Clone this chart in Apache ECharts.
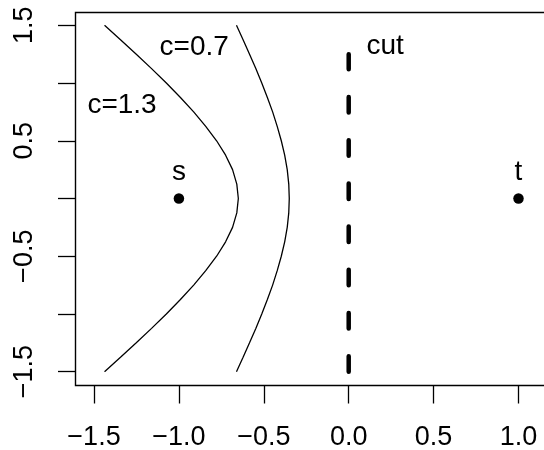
<!DOCTYPE html>
<html>
<head>
<meta charset="utf-8">
<script src="https://cdn.jsdelivr.net/npm/echarts@6/dist/echarts.min.js"></script>
<style>html,body{margin:0;padding:0;background:#fff}#c{width:544px;height:450px}</style>
</head>
<body>
<div id="c"></div>
<script>
// ---- data ----
var curveY    = [-1.5,-1.375,-1.25,-1.125,-1.0,-0.875,-0.75,-0.625,-0.5,-0.375,-0.25,-0.125,0,0.125,0.25,0.375,0.5,0.625,0.75,0.875,1.0,1.125,1.25,1.375,1.5];
var curve13X  = [-1.438,-1.344,-1.251,-1.161,-1.074,-0.991,-0.913,-0.842,-0.778,-0.725,-0.684,-0.659,-0.650,-0.659,-0.684,-0.725,-0.778,-0.842,-0.913,-0.991,-1.074,-1.161,-1.251,-1.344,-1.438];
var curve07X  = [-0.661,-0.622,-0.584,-0.547,-0.512,-0.479,-0.448,-0.421,-0.397,-0.377,-0.362,-0.353,-0.350,-0.353,-0.362,-0.377,-0.397,-0.421,-0.448,-0.479,-0.512,-0.547,-0.584,-0.622,-0.661];
var cutX      = [0, 0];
var cutY      = [-1.5, 1.25];
var pointX    = [-1, 1];
var pointY    = [0, 0];
var textLabels = ['s', 't', 'cut', 'c=0.7', 'c=1.3'];
var textX      = [-1.0, 1.0, 0.215, -0.91, -1.335];
var textY      = [0.223, 0.223, 1.315, 1.31, 0.81];
var xTicks      = [-1.5, -1.0, -0.5, 0, 0.5, 1.0];
var xTickLabels = ['\u22121.5', '\u22121.0', '\u22120.5', '0.0', '0.5', '1.0'];
var yTicks      = [-1.5, -1.0, -0.5, 0, 0.5, 1.0, 1.5];
var yTickLabels = ['\u22121.5', '', '\u22120.5', '', '0.5', '', '1.5'];

function lookup(ticks, labels, v) {
  for (var i = 0; i < ticks.length; i++) if (Math.abs(ticks[i] - v) < 1e-9) return labels[i];
  return '';
}
function pairs(xs, ys) { return xs.map(function (x, i) { return [x, ys[i]]; }); }

var FONT = 'Liberation Sans, Arial, Helvetica, sans-serif';
var chart = echarts.init(document.getElementById('c'), null, {renderer: 'canvas'});
chart.setOption({
  animation: false,
  backgroundColor: '#fff',
  grid: {left: 94, right: 25.5, top: 25.3, bottom: 78.3, containLabel: false, outerBoundsMode: 'none'},
  xAxis: {
    type: 'value', min: -1.5, max: 1.0, interval: 0.5, offset: 13.8,
    axisLine: {show: false, onZero: false}, splitLine: {show: false},
    axisTick: {show: true, length: 18, lineStyle: {color: '#000', width: 1.3}},
    axisLabel: {show: true, margin: 52, verticalAlign: 'middle', color: '#000', fontSize: 27, fontFamily: FONT,
      showMinLabel: true, showMaxLabel: true, hideOverlap: false,
      formatter: function (v) { return lookup(xTicks, xTickLabels, v); }}
  },
  yAxis: {
    type: 'value', min: -1.5, max: 1.5, interval: 0.5, offset: 18,
    axisLine: {show: false, onZero: false}, splitLine: {show: false},
    axisTick: {show: true, length: 18, lineStyle: {color: '#000', width: 1.3}},
    axisLabel: {show: true, margin: 51, rotate: 90, align: 'center', verticalAlign: 'middle', color: '#000', fontSize: 27, fontFamily: FONT,
      showMinLabel: true, showMaxLabel: true, hideOverlap: false,
      formatter: function (v) { return lookup(yTicks, yTickLabels, v); }}
  },
  graphic: [{
    type: 'rect', silent: true, z: 100,
    shape: {x: 75.5, y: 12.5, width: 520, height: 373},
    style: {fill: 'none', stroke: '#000', lineWidth: 1.4}
  }],
  series: [
    {type: 'line', data: pairs(curve13X, curveY), showSymbol: false, symbol: 'none', smooth: false,
      lineStyle: {color: '#000', width: 1.3}},
    {type: 'line', data: pairs(curve07X, curveY), showSymbol: false, symbol: 'none', smooth: false,
      lineStyle: {color: '#000', width: 1.3}},
    {type: 'line', data: pairs(cutX, cutY), showSymbol: false, symbol: 'none',
      lineStyle: {color: '#000', width: 4.5, type: [15.5, 27.7], cap: 'round'}},
    {type: 'scatter', data: pairs(pointX, pointY), symbol: 'circle', symbolSize: 10.5,
      itemStyle: {color: '#000', opacity: 1}},
    {type: 'scatter', symbolSize: 2, itemStyle: {color: '#fff', opacity: 1}, z: 1,
      data: textLabels.map(function (t, i) { return {name: t, value: [textX[i], textY[i]]}; }),
      label: {show: true, position: [1, 1], formatter: '{b}', color: '#000', opacity: 1, fontSize: 28, fontFamily: FONT,
        align: 'center', verticalAlign: 'middle', textBorderWidth: 0}}
  ]
});
</script>
</body>
</html>
